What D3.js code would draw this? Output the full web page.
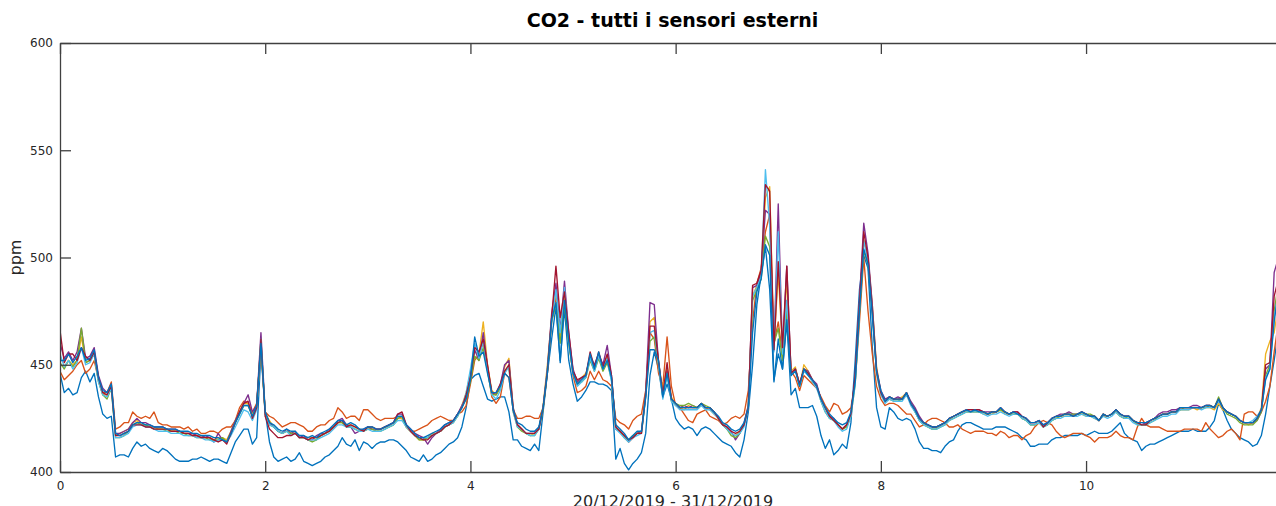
<!DOCTYPE html>
<html>
<head>
<meta charset="utf-8">
<script src="https://cdn.jsdelivr.net/npm/d3@7"></script>
<style>
  html, body { margin: 0; padding: 0; background: #fff; }
  svg { display: block; }
  text { font-family: "DejaVu Sans", sans-serif; }
</style>
</head>
<body>
<svg id="chart" width="1276" height="506"></svg>
<script>
// Hourly CO2 readings (ppm) from the outdoor sensors, 20/12/2019 00:00 onwards.
// One row per day, 24 values per row.
const sensor1 = [
  446,437,439,436,437,444,447,442,446,435,427,425,426,407,408,408,407,411,414,412,413,411,410,409,
  411,410,408,406,405,405,405,406,406,407,406,405,406,406,405,404,409,414,417,420,420,413,416,456,
  428,414,407,405,406,407,405,406,409,405,404,403,404,405,407,408,410,412,416,413,412,415,410,414,
  413,411,413,414,414,415,415,414,412,410,407,406,405,408,405,406,408,409,411,413,414,416,421,430,
  443,445,446,440,434,433,434,435,435,428,415,415,412,411,410,413,410,428,446,462,477,452,476,452,
  441,433,435,438,442,442,441,441,440,438,406,411,404,401,404,406,409,418,445,456,448,435,441,434,
  425,422,420,421,420,417,420,421,420,418,416,414,413,412,409,407,415,428,450,478,492,505,485,442,
  462,448,470,436,439,430,430,430,431,426,417,411,415,408,410,413,411,423,452,485,501,495,458,430,
  421,420,430,428,425,424,425,424,420,414,411,411,410,410,409,412,414,415,419,422,423,423,422,421,
  420,420,420,421,421,421,420,419,418,416,415,412,412,413,413,413,415,416,416,417,417,417,417,418,
  417,418,419,418,418,418,419,421,423,418,416,415,414,410,412,413,413,414,415,416,417,418,419,419,
  419,420,419,419,419,421,424,432,429,424,420,418,416,415,414,412,413,417,427,440,452,466,470,468
];
const sensor2 = [
  447,443,445,447,450,452,446,448,452,443,437,437,442,420,421,423,423,428,426,425,426,425,428,423,
  422,422,421,421,421,420,421,419,420,418,418,419,419,418,420,421,421,424,430,433,432,428,432,458,
  428,426,425,423,421,422,423,423,422,421,419,419,421,422,422,424,425,430,428,425,426,426,424,429,
  429,427,425,424,425,425,425,426,425,421,419,419,420,421,422,424,425,426,425,424,424,427,428,431,
  441,452,455,460,448,435,432,435,446,444,429,425,425,426,426,425,425,430,446,470,482,462,485,462,
  445,437,438,440,447,443,447,443,442,440,425,423,422,420,424,426,427,438,465,462,446,440,463,440,
  431,430,427,424,423,427,428,429,426,425,424,422,423,425,426,425,427,438,470,488,495,512,520,460,
  470,455,480,447,444,438,445,443,441,439,435,431,428,432,431,427,428,430,442,470,500,475,455,440,
  434,431,432,432,431,429,427,427,424,421,422,424,425,425,424,423,421,421,422,420,419,418,419,419,
  419,418,418,417,419,418,416,417,417,415,417,418,421,423,424,423,422,419,417,416,417,418,418,418,
  417,416,414,416,416,416,417,419,417,416,416,415,421,425,422,421,421,421,420,419,419,419,419,420,
  420,420,420,419,423,420,418,416,417,419,420,418,415,427,428,428,426,428,433,440,456,470,475,472
];
const sensor3 = [
  450,449,452,450,452,463,451,452,455,443,436,436,440,417,418,419,420,423,424,422,422,421,421,420,
  420,420,419,419,419,418,418,418,417,417,416,416,415,416,416,415,419,424,428,432,432,427,430,459,
  427,424,421,419,418,419,418,418,416,416,416,416,415,417,418,419,421,423,423,422,422,421,420,419,
  420,420,419,420,421,421,422,425,425,421,419,417,415,415,416,418,418,419,421,422,424,426,431,437,
  446,456,455,470,450,438,436,440,449,453,430,422,420,418,417,418,420,431,450,472,484,462,482,462,
  447,442,444,446,453,449,454,449,454,444,421,419,416,414,416,418,419,437,470,472,451,438,449,435,
  431,430,429,431,430,430,431,430,429,427,425,422,420,418,417,419,422,431,482,487,492,528,533,458,
  493,457,490,447,449,440,450,447,443,440,434,430,426,424,422,420,421,427,443,478,508,500,478,449,
  437,433,435,434,434,435,437,432,429,425,423,421,420,420,422,423,424,426,427,428,428,428,428,428,
  427,427,427,428,429,427,427,427,427,425,424,422,422,423,422,422,424,425,426,426,426,426,427,427,
  426,426,425,424,426,426,427,428,426,425,425,424,423,422,422,424,425,426,427,427,428,428,429,429,
  429,430,429,430,430,430,429,432,429,428,427,426,424,423,422,423,425,430,455,461,465,478,482,480
];
const sensor4 = [
  460,453,456,452,456,467,453,454,458,445,439,437,441,418,418,419,420,423,425,423,423,422,421,421,
  421,420,420,420,419,418,418,418,417,416,417,416,414,418,415,414,419,424,428,432,436,428,431,465,
  428,423,421,419,418,420,418,419,416,417,415,415,417,418,418,420,421,424,425,422,421,418,419,420,
  421,420,420,420,421,422,423,427,427,422,420,418,417,416,413,416,418,420,422,423,424,427,431,435,
  445,457,452,465,449,437,436,441,450,452,430,422,420,418,418,418,420,430,448,474,488,466,489,465,
  448,442,444,445,454,450,455,450,459,445,420,419,417,414,416,418,419,437,479,478,451,436,447,434,
  432,430,431,430,431,430,432,430,430,428,425,422,421,419,415,418,423,431,486,487,493,522,520,457,
  525,456,496,446,448,441,448,447,443,441,434,430,426,425,422,420,422,427,444,480,516,502,478,448,
  438,434,435,434,435,434,437,433,430,426,423,422,421,421,422,423,425,426,427,428,429,428,429,429,
  428,428,428,428,430,428,427,428,428,426,425,423,423,424,422,423,425,426,427,427,428,427,427,428,
  427,426,426,424,427,426,427,429,427,426,426,424,423,422,423,424,425,427,428,428,429,429,430,430,
  430,431,431,430,431,431,430,434,430,428,427,426,424,423,423,423,424,428,448,450,493,500,500,498
];
const sensor5 = [
  451,448,452,449,452,467,451,452,455,442,436,434,439,416,416,417,419,422,423,422,422,421,420,420,
  420,419,419,419,418,418,417,417,416,416,416,415,415,415,416,414,418,423,427,431,431,426,430,461,
  427,422,421,419,418,419,418,418,416,416,415,414,415,417,418,419,421,423,423,421,421,420,419,419,
  420,420,419,419,420,421,422,425,426,421,419,417,415,415,416,417,418,419,421,422,423,426,430,434,
  442,454,452,458,447,436,436,439,447,449,428,421,419,418,417,417,420,429,447,470,478,460,478,460,
  446,441,442,444,452,447,453,447,451,443,420,419,416,415,417,418,418,435,461,463,450,435,446,433,
  432,431,431,432,431,430,432,431,430,428,425,422,420,417,416,418,422,430,480,485,490,510,505,460,
  467,452,475,445,448,440,448,446,442,440,433,428,425,424,422,420,421,426,441,474,503,497,474,446,
  436,433,434,433,433,434,436,432,428,424,422,421,420,420,421,422,424,425,426,427,428,428,428,428,
  428,427,428,428,429,428,427,427,427,425,424,422,422,423,421,422,424,425,426,427,427,427,427,427,
  427,427,426,424,427,426,427,428,426,425,426,424,422,422,422,423,424,426,427,427,428,428,429,430,
  430,430,430,430,430,431,430,435,430,427,426,425,423,422,422,422,424,428,445,450,475,488,490,488
];
const sensor6 = [
  455,449,452,448,451,458,450,451,455,442,436,435,439,416,416,417,418,421,422,422,421,421,420,419,
  419,419,418,418,418,417,417,417,416,416,415,415,414,415,415,414,417,421,425,429,428,424,429,462,
  426,422,421,419,418,419,417,418,416,416,415,415,415,416,417,418,420,422,422,421,421,420,419,419,
  420,419,419,419,420,421,422,424,424,421,419,417,416,416,416,417,418,419,421,422,423,426,430,437,
  448,460,453,461,448,436,434,438,446,449,428,421,420,418,417,417,420,430,448,470,485,465,486,462,
  446,440,442,444,453,447,454,448,453,442,420,418,416,414,416,417,418,435,465,466,450,434,445,433,
  431,429,429,429,429,429,431,429,429,427,425,422,420,418,417,418,421,430,482,486,491,541,515,456,
  512,455,480,445,448,440,447,445,442,439,433,428,425,424,421,419,420,426,441,476,508,498,475,446,
  436,432,434,433,433,433,436,431,428,424,422,421,420,420,421,422,424,425,426,427,428,428,428,428,
  427,426,427,427,428,427,426,427,427,425,424,422,422,423,421,422,424,425,425,426,426,426,426,427,
  426,426,425,424,426,425,426,428,426,425,425,423,422,422,422,423,424,425,426,426,427,427,429,429,
  429,430,430,429,430,430,430,433,430,428,427,426,424,423,423,424,426,429,444,448,472,484,486,484
];
const sensor7 = [
  466,451,455,455,452,458,454,452,456,444,437,436,440,417,417,418,419,422,422,422,421,421,420,420,
  420,420,419,419,419,418,418,417,417,416,416,416,415,414,415,413,418,423,428,432,433,425,430,462,
  426,420,418,416,416,417,417,418,416,416,415,416,416,417,418,419,421,423,424,421,422,421,420,419,
  421,421,420,420,421,422,423,427,428,422,419,417,416,415,415,417,418,419,421,422,424,427,430,436,
  444,458,456,462,450,437,437,441,447,450,429,422,420,418,418,418,420,430,447,472,496,472,484,465,
  447,443,444,445,456,449,456,449,455,445,421,419,417,415,416,418,418,436,468,468,452,436,451,434,
  432,430,430,430,430,430,432,430,430,428,425,422,421,419,418,419,422,430,487,488,494,534,531,457,
  498,458,496,446,448,441,448,446,443,440,434,430,426,424,422,420,422,427,445,478,512,500,476,447,
  437,433,435,434,434,434,437,432,429,425,423,422,421,421,422,423,425,426,427,428,429,429,429,429,
  428,427,428,428,430,428,427,428,428,426,425,423,423,424,421,423,425,426,426,427,427,426,427,428,
  427,426,426,424,427,426,427,429,427,426,426,424,423,422,422,424,425,426,427,427,428,428,430,430,
  430,430,430,430,431,431,430,434,430,428,427,426,424,423,423,423,425,429,450,451,482,490,492,490
];
const sensor8 = [
  452,452,455,451,454,458,452,453,457,444,438,437,441,418,417,418,419,422,423,423,422,422,421,421,
  421,420,420,420,419,419,419,418,418,417,417,417,416,416,415,414,418,423,427,431,431,426,431,460,
  428,423,422,420,419,420,419,419,417,417,416,417,416,418,419,420,422,424,424,422,423,422,420,420,
  421,421,420,420,421,422,423,426,426,422,420,418,416,416,417,418,419,420,422,423,424,427,430,434,
  443,463,454,456,446,437,437,440,446,444,429,423,422,420,419,419,421,430,446,471,479,451,480,461,
  446,441,443,445,455,448,456,448,452,444,422,420,418,415,417,419,419,435,457,457,452,435,446,434,
  432,430,430,430,430,430,432,430,430,428,426,423,422,420,419,420,423,430,465,484,490,506,501,443,
  455,448,471,445,447,440,448,445,443,440,434,430,427,425,423,422,423,428,442,475,504,497,473,447,
  438,433,435,434,434,434,437,432,429,425,423,422,421,421,422,423,425,426,427,428,429,428,429,428,
  428,427,428,428,430,428,427,428,427,426,425,423,423,424,422,423,425,426,426,427,427,426,427,428,
  427,426,426,424,427,426,427,429,427,426,426,424,423,423,423,424,425,426,427,427,428,428,430,430,
  430,430,430,430,431,431,430,434,430,428,427,426,424,423,423,423,425,429,443,448,470,485,488,486
];

const seriesValues = [sensor1, sensor2, sensor3, sensor4, sensor5, sensor6, sensor7, sensor8];
const seriesColors = ["#0072BD", "#D95319", "#EDB120", "#7E2F8E", "#77AC30", "#4DBEEE", "#A2142F", "#0072BD"];

const xTicks = [0, 2, 4, 6, 8, 10];
const yTicks = [400, 450, 500, 550, 600];
const titleText = "CO2 - tutti i sensori esterni";
const xLabelText = "20/12/2019 - 31/12/2019";
const yLabelText = "ppm";

const svg = d3.select("#chart");
const plotLeft = 60, plotRight = 1287, plotTop = 43, plotBottom = 472;
const axisColor = "#404040";
const tickLen = 11;

const x = d3.scaleLinear().domain([0, 287 / 24]).range([plotLeft, plotRight]);
const y = d3.scaleLinear().domain([400, 600]).range([plotBottom, plotTop]);

svg.append("defs").append("clipPath").attr("id", "plot-clip")
  .append("rect").attr("x", plotLeft).attr("y", plotTop)
  .attr("width", plotRight - plotLeft).attr("height", plotBottom - plotTop);

// data lines, hour index -> days
const line = d3.line()
  .x((d, i) => x(i / 24))
  .y(d => y(d));

const plot = svg.append("g").attr("clip-path", "url(#plot-clip)");
seriesValues.forEach((vals, k) => {
  plot.append("path")
    .datum(vals)
    .attr("fill", "none")
    .attr("stroke", seriesColors[k])
    .attr("stroke-width", 1.35)
    .attr("stroke-linejoin", "round")
    .attr("d", line);
});

function styleAxis(g) {
  g.select(".domain").attr("stroke", axisColor).attr("stroke-width", 1.3).attr("fill", "none");
  g.selectAll(".tick line").attr("stroke", axisColor).attr("stroke-width", 1.3);
  g.selectAll(".tick text")
    .attr("fill", "#262626")
    .style("font-family", "'DejaVu Sans', sans-serif")
    .style("font-size", "12px");
}

// box: bottom / left with labels, top / right mirrored ticks
svg.append("g")
  .attr("transform", `translate(0,${plotBottom})`)
  .call(d3.axisBottom(x).tickValues(xTicks).tickFormat(d3.format("d"))
    .tickSizeInner(-tickLen).tickSizeOuter(0).tickPadding(9))
  .call(styleAxis);

svg.append("g")
  .attr("transform", `translate(0,${plotTop})`)
  .call(d3.axisTop(x).tickValues(xTicks).tickFormat("")
    .tickSizeInner(-tickLen).tickSizeOuter(0))
  .call(styleAxis);

svg.append("g")
  .attr("transform", `translate(${plotLeft},0)`)
  .call(d3.axisLeft(y).tickValues(yTicks).tickFormat(d3.format("d"))
    .tickSizeInner(-tickLen).tickSizeOuter(0).tickPadding(7))
  .call(styleAxis);

svg.append("g")
  .attr("transform", `translate(${plotRight},0)`)
  .call(d3.axisRight(y).tickValues(yTicks).tickFormat("")
    .tickSizeInner(-tickLen).tickSizeOuter(0))
  .call(styleAxis);

// title and axis labels
svg.append("text")
  .attr("x", 672.5).attr("y", 26.5)
  .attr("text-anchor", "middle")
  .style("font-size", "19px").style("font-weight", "bold")
  .attr("fill", "#000")
  .text(titleText);

svg.append("text")
  .attr("x", 673).attr("y", 507)
  .attr("text-anchor", "middle")
  .style("font-size", "16px")
  .attr("fill", "#262626")
  .text(xLabelText);

svg.append("text")
  .attr("transform", "translate(20.5,257.5) rotate(-90)")
  .attr("text-anchor", "middle")
  .style("font-size", "16px")
  .attr("fill", "#262626")
  .text(yLabelText);
</script>
</body>
</html>
